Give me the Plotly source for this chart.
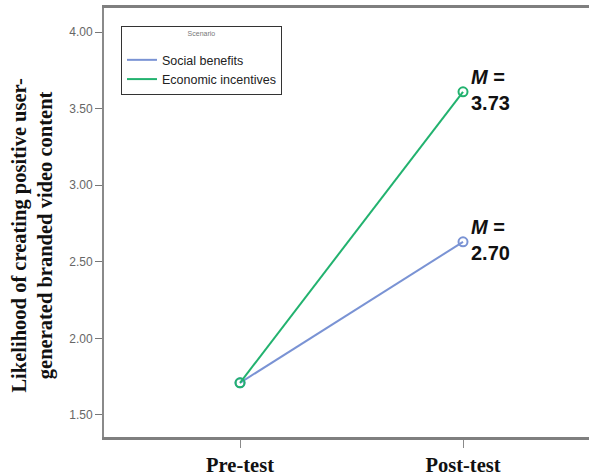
import plotly.graph_objects as go

categories = ["Pre-test", "Post-test"]
social_benefits = [1.71, 2.63]
economic_incentives = [1.71, 3.61]
series_names = ["Social benefits", "Economic incentives"]
post_labels = ["2.70", "3.73"]
y_tick_vals = [1.5, 2.0, 2.5, 3.0, 3.5, 4.0]
y_tick_text = ["1.50", "2.00", "2.50", "3.00", "3.50", "4.00"]

blue = "#7a93d4"
green = "#22b26f"

fig = go.Figure()
for name, vals, col in [(series_names[0], social_benefits, blue),
                        (series_names[1], economic_incentives, green)]:
    fig.add_trace(go.Scatter(
        x=categories, y=vals, name=name, mode="lines+markers",
        line=dict(color=col, width=2),
        marker=dict(symbol="circle-open", size=9, color=col, line=dict(width=2)),
        showlegend=False,
    ))
    # legend entry: line only
    fig.add_trace(go.Scatter(
        x=[None], y=[None], name=name, mode="lines",
        line=dict(color=col, width=2), showlegend=True,
    ))

# annotations for post-test means
for vals, lab in [(social_benefits, post_labels[0]), (economic_incentives, post_labels[1])]:
    fig.add_annotation(
        x=categories[1], y=vals[1], xref="x", yref="y",
        text="<b><i>M</i> =<br>" + lab + "</b>",
        showarrow=False, xanchor="left", yanchor="middle", align="left",
        xshift=6, yshift=2,
        font=dict(family="Liberation Sans, Arial", size=20, color="#111"),
    )

# y axis title
fig.add_annotation(
    xref="paper", yref="paper", x=-0.146, y=0.47,
    text="<b>Likelihood of creating positive user-<br>generated branded video content</b>",
    textangle=-90, showarrow=False, xanchor="center", yanchor="middle",
    font=dict(family="Liberation Serif, Times New Roman", size=20.5, color="#111"),
)

fig.update_layout(
    width=589, height=475,
    margin=dict(l=104, r=0, t=8, b=38),
    paper_bgcolor="white", plot_bgcolor="white",
    showlegend=True,
    legend=dict(
        x=0.035, y=0.958, xanchor="left", yanchor="top",
        bordercolor="#333", borderwidth=1, bgcolor="white",
        font=dict(family="Liberation Sans, Arial", size=12.5, color="#222"),
        title=dict(text="Scenario<br> ", side="top center",
                   font=dict(family="Liberation Sans, Arial", size=7, color="#777")),
        itemwidth=30, tracegroupgap=0,
    ),
    xaxis=dict(
        type="category", range=[-0.61, 1.565],
        showgrid=False, zeroline=False,
        showline=True, linecolor="#7f7f7f", linewidth=2.5, mirror=True,
        ticks="outside", ticklen=8, tickcolor="#8a8a8a", tickwidth=1,
        tickfont=dict(family="Liberation Serif, Times New Roman", size=20.5, color="#111"),
        tickprefix="<b>", ticksuffix="</b>",
    ),
    yaxis=dict(
        range=[1.356, 4.157],
        tickvals=y_tick_vals, ticktext=y_tick_text,
        showgrid=False, zeroline=False,
        showline=True, linecolor="#8a8a8a", linewidth=2, mirror=False,
        ticks="outside", ticklen=7, tickcolor="#777", tickwidth=1,
        tickfont=dict(family="Liberation Sans, Arial", size=12, color="#666"),
    ),
)

fig.write_html("out.html", config={"displayModeBar": False},
               post_script="document.body.style.margin='0';")
